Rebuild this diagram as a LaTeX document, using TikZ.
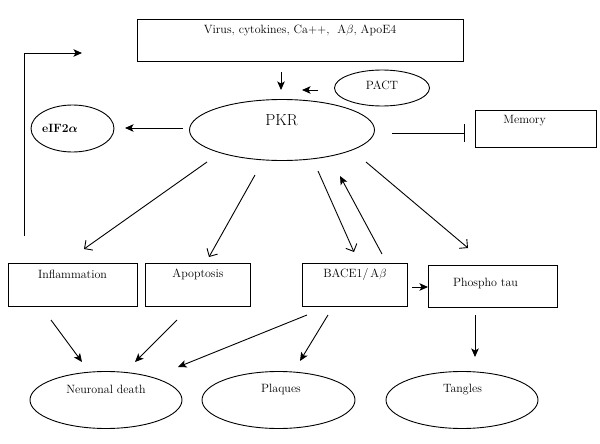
\documentclass[tikz,border=0pt]{standalone}
\usepackage{bm}
\usetikzlibrary{shapes.geometric,arrows.meta}
\begin{document}
\begin{tikzpicture}[x=1pt,y=-1pt, line width=0.9pt,
  every node/.style={font=\fontsize{12}{14}\selectfont, inner sep=0pt},
  box/.style={draw, rectangle, inner sep=0pt},
  oval/.style={draw, ellipse, inner sep=0pt},
  fa/.style={-{Stealth[length=8.5pt,width=7.5pt,inset=2pt]}},
  oa/.style={-{Straight Barb[length=6pt,width=12pt]}},
]
\useasboundingbox (0,0) rectangle (600,444);

% boxes
\node[box, minimum width=326pt, minimum height=42pt] (topbox) at (300,40) {};
\node[box, minimum width=121pt, minimum height=37pt] (memory) at (535.5,128.5) {};
\node[box, minimum width=129pt, minimum height=43pt] (infl) at (72.5,284.5) {};
\node[box, minimum width=105pt, minimum height=43pt] (apop) at (197.5,284.5) {};
\node[box, minimum width=105pt, minimum height=43pt] (bace) at (354.5,284.5) {};
\node[box, minimum width=129pt, minimum height=42pt] (phos) at (492.5,286) {};

% ellipses
\node[oval, minimum width=95pt, minimum height=36pt] (pact) at (382,88) {};
\node[oval, minimum width=185pt, minimum height=61pt] (pkr) at (282,130) {};
\node[oval, minimum width=83pt, minimum height=47pt] (eif) at (72.5,128.5) {};
\node[oval, minimum width=152pt, minimum height=57pt] (neur) at (106,400) {};
\node[oval, minimum width=153pt, minimum height=57pt] (plaq) at (278.5,400) {};
\node[oval, minimum width=152pt, minimum height=57pt] (tang) at (462,400) {};

% texts
\node (topboxtext) at (300,30) {Virus, cytokines, Ca++, \ A$\beta$, ApoE4};
\node (memorytext) at (524.5,121) {Memory};
\node (infltext) at (72.5,274) {Inflammation};
\node (apoptext) at (198,274) {Apoptosis};
\node (bacetext) at (355,274) {BACE1/\,A$\beta$};
\node (phostext) at (485.5,283) {Phospho tau};
\node (pacttext) at (382,85) {PACT};
\node[font=\fontsize{16}{18}\selectfont] (pkrtext) at (281.5,120) {PKR};
\node (eiftext) at (60,128) {\textbf{eIF2}$\bm{\alpha}$};
\node (neurtext) at (106,389) {Neuronal death};
\node (plaqtext) at (281,389) {Plaques};
\node (tangtext) at (462.5,390) {Tangles};

% connector end points
\coordinate (td1) at (281,72);   \coordinate (td2) at (281,90);
\coordinate (pa1) at (318,90);   \coordinate (pa2) at (302,90);
\coordinate (ea1) at (183,128);  \coordinate (ea2) at (125,128);
\coordinate (ml1) at (392,133);  \coordinate (ml2) at (465,133);
\coordinate (ia1) at (207,162);  \coordinate (ia2) at (84,249);
\coordinate (aa1) at (255,175);  \coordinate (aa2) at (209,257);
\coordinate (bd1) at (318,171);  \coordinate (bd2) at (354,252);
\coordinate (bu1) at (382,254);  \coordinate (bu2) at (340,176);
\coordinate (pt1) at (366,162);  \coordinate (pt2) at (468,248);
\coordinate (bp1) at (412,287);  \coordinate (bp2) at (428,287);
\coordinate (n11) at (51,320);   \coordinate (n12) at (82,362);
\coordinate (n21) at (177,320);  \coordinate (n22) at (135,362);
\coordinate (n31) at (307,315);  \coordinate (n32) at (178,367);
\coordinate (pl1) at (328,315);  \coordinate (pl2) at (300,361);
\coordinate (tg1) at (475,315);  \coordinate (tg2) at (475,357);
\coordinate (fb1) at (24,236);   \coordinate (fb2) at (82,53);

% connectors
\draw[fa] (td1) -- (td2);
\draw[fa] (pa1) -- (pa2);
\draw[fa] (ea1) -- (ea2);
\draw[-{Bar[width=18pt]}] (ml1) -- (ml2);
\draw[oa] (ia1) -- (ia2);
\draw[oa] (aa1) -- (aa2);
\draw[oa] (bd1) -- (bd2);
\draw[fa] (bu1) -- (bu2);
\draw[oa] (pt1) -- (pt2);
\draw[fa] (bp1) -- (bp2);
\draw[fa] (n11) -- (n12);
\draw[fa] (n21) -- (n22);
\draw[fa] (n31) -- (n32);
\draw[fa] (pl1) -- (pl2);
\draw[fa] (tg1) -- (tg2);
\draw[fa] (fb1) |- (fb2);
\end{tikzpicture}
\end{document}
